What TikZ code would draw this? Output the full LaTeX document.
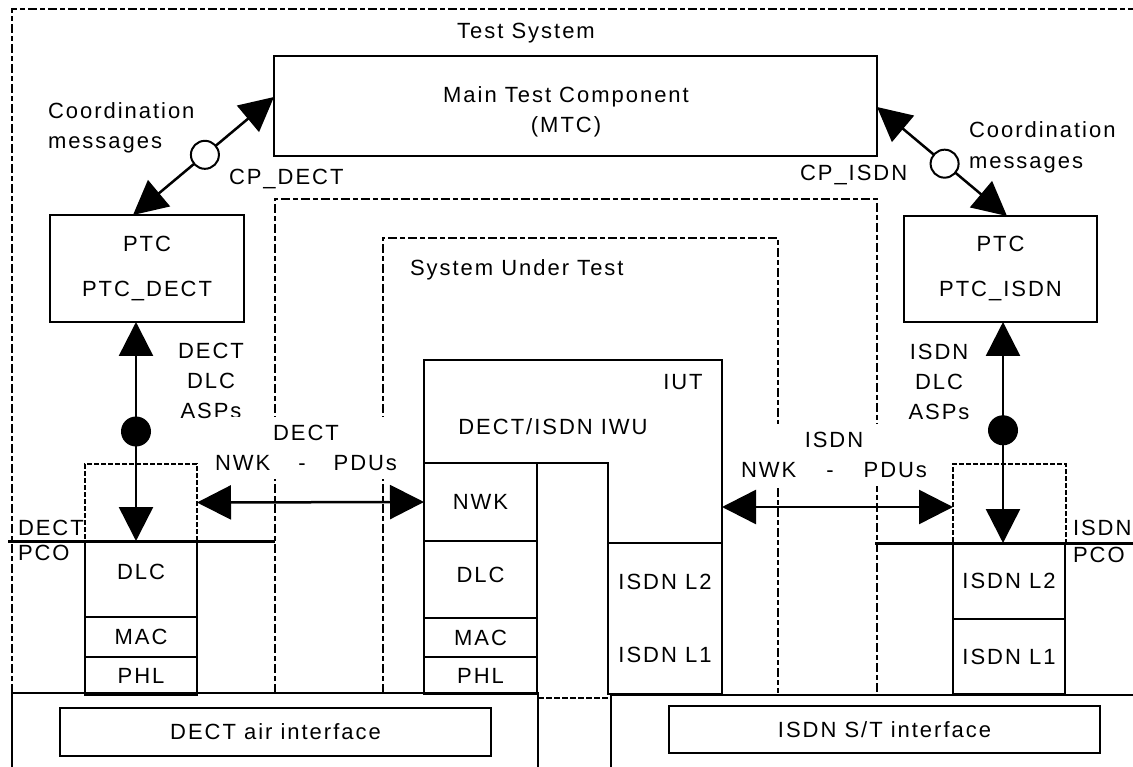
\documentclass[tikz,border=0pt]{standalone}
\usepackage{fontspec}
\setmainfont{Liberation Sans}[LetterSpace=9]
\usetikzlibrary{arrows.meta,calc}
\begin{document}
\begin{tikzpicture}[x=1pt,y=-1pt,
  txt/.style={font=\fontsize{22}{30}\selectfont, inner sep=0pt, outer sep=0pt, align=center},
  box/.style={draw, line width=2.2pt, anchor=north west, inner sep=0pt, outer sep=0pt, font=\fontsize{22}{30}\selectfont, align=center},
  frame/.style={line width=2.6pt, dash pattern=on 9pt off 3pt on 5pt off 3pt},
  pcobox/.style={draw, line width=1.8pt, dash pattern=on 5pt off 2pt, anchor=north west, inner sep=0pt, outer sep=0pt},
  pcoline/.style={line width=3pt},
  arr/.style={line width=2.5pt, {Triangle[length=34pt,width=34pt]}-{Triangle[length=34pt,width=34pt]}},
  opencirc/.style={circle, draw, line width=2pt, fill=white, minimum size=28pt, inner sep=0pt},
  filledcirc/.style={circle, fill=black, minimum size=30pt, inner sep=0pt},
  solidline/.style={line width=2.2pt},
  mask/.style={txt, fill=white, inner xsep=4pt, inner ysep=8pt}]
\useasboundingbox (0,0) rectangle (1133,767);
\clip (0,0) rectangle (1133,767);

% outer test system frame
\draw[frame] (12,693) -- (12,9) -- (1140,9);
\node[txt] (testsys) at (526,33) {Test System};

% system under test frames
\draw[frame] (275,693) -- (275,199) -- (877,199) -- (877,693);
\draw[frame] (383,693) -- (383,238) -- (778,238) -- (778,693);
\node[txt, anchor=west] (sut) at (410,270) {System Under Test};

% MTC
\node[box, minimum width=603pt, minimum height=100pt] (mtc) at (274,56) {};
\node[txt] (mtctext) at (566,112) {Main Test Component\\(MTC)};

% PTCs
\node[box, minimum width=194pt, minimum height=107pt] (ptcd) at (50,215) {PTC\\[15pt]PTC\_DECT};
\node[box, minimum width=193pt, minimum height=106pt] (ptci) at (904,216) {PTC\\[15pt]PTC\_ISDN};

% coordination
\draw[arr] ($(ptcd.north west)+(83,0)$) -- node[opencirc, pos=0.51] (cd) {} ($(mtc.north west)+(0,41)$);
\draw[arr] ($(mtc.north east)+(0,51)$) -- node[opencirc, pos=0.52] (ci) {} ($(ptci.north west)+(103,0)$);
\node[txt, anchor=west, align=left] (coordl) at (48,128) {Coordination\\messages};
\node[txt, anchor=west, align=left, font=\fontsize{22}{31}\selectfont] (coordr) at (969,147) {Coordination\\messages};
\node[txt, anchor=west] (cpd) at (229,179) {CP\_DECT};
\node[txt, anchor=west] (cpi) at (800,175) {CP\_ISDN};

% PCO boxes
\node[pcobox, minimum width=112pt, minimum height=77pt] (pcod) at (85,464) {};
\node[pcobox, minimum width=113pt, minimum height=79pt] (pcoi) at (953,464) {};

% ASP arrows
\draw[arr] ($(ptcd.south west)+(86,0)$) -- node[filledcirc, pos=0.5] (fd) {} ($(pcod.south west)+(51,0)$);
\draw[arr] ($(ptci.south west)+(99,0)$) -- node[filledcirc, pos=0.49] (fi) {} ($(pcoi.south west)+(50,0)$);
\node[txt] (aspd) at (211,381) {DECT\\DLC\\ASPs};
\node[txt] (aspi) at (939,382) {ISDN\\DLC\\ASPs};

% PCO lines
\draw[pcoline] (8,541) -- (275,541);
\draw[pcoline] (875,543) -- (1140,543);
\node[txt, anchor=north west, align=left, font=\fontsize{22}{25}\selectfont] (pcodl) at (18,520) {DECT\\PCO};
\node[txt, anchor=north west, align=left, font=\fontsize{22}{27}\selectfont] (pcoil) at (1073,520) {ISDN\\PCO};

% tester lower layers
\node[box, minimum width=112pt, minimum height=76pt, text depth=14pt] (dlcl) at (85,541) {DLC};
\node[box, minimum width=112pt, minimum height=40pt] (macl) at (85,617) {MAC};
\node[box, minimum width=112pt, minimum height=38pt] (phll) at (85,657) {PHL};
\node[box, minimum width=112pt, minimum height=76pt] (isdnl2) at (953,543) {ISDN L2};
\node[box, minimum width=112pt, minimum height=75pt] (isdnl1) at (953,619) {ISDN L1};

% IUT
\draw[solidline] (424,694) -- (424,360) -- (722,360) -- (722,694);
\draw[solidline] (537,463) -- (608,463) -- (608,543);
\node[txt] (iutlbl) at (683,382) {IUT};
\node[txt] (iwu) at (553,427) {DECT/ISDN IWU};
\node[box, minimum width=113pt, minimum height=78pt] (nwk) at (424,463) {NWK};
\node[box, minimum width=113pt, minimum height=77pt, text depth=10pt] (dlcm) at (424,541) {DLC};
\node[box, minimum width=113pt, minimum height=39pt] (macm) at (424,618) {MAC};
\node[box, minimum width=113pt, minimum height=37pt] (phlm) at (424,657) {PHL};
\node[box, minimum width=114pt, minimum height=151pt] (isdnm) at (608,543) {ISDN L2\\[43pt]ISDN L1};

% NWK PDU arrows and labels
\node[mask] (nwkd) at (306,448) {DECT\\NWK\hspace{28pt}-\hspace{28pt}PDUs};
\node[mask] (nwki) at (834,455) {ISDN\\NWK\hspace{30pt}-\hspace{30pt}PDUs};
\draw[arr] (pcod.east) -- (nwk.west);
\coordinate (ie) at (722,507);
\draw[arr] (ie) -- (ie -| pcoi.west);

% bottom interfaces
\draw[solidline] (12,767) -- (12,693) -- (538,693) -- (538,767);
\draw[solidline] (611,767) -- (611,695) -- (1140,695);
\draw[line width=1.5pt, dash pattern=on 6pt off 2pt] (538,698) -- (611,698);
\node[box, minimum width=431pt, minimum height=48pt] (air) at (60,708) {DECT air interface};
\node[box, minimum width=431pt, minimum height=47pt] (st) at (669,706) {ISDN S/T interface};
\end{tikzpicture}
\end{document}
